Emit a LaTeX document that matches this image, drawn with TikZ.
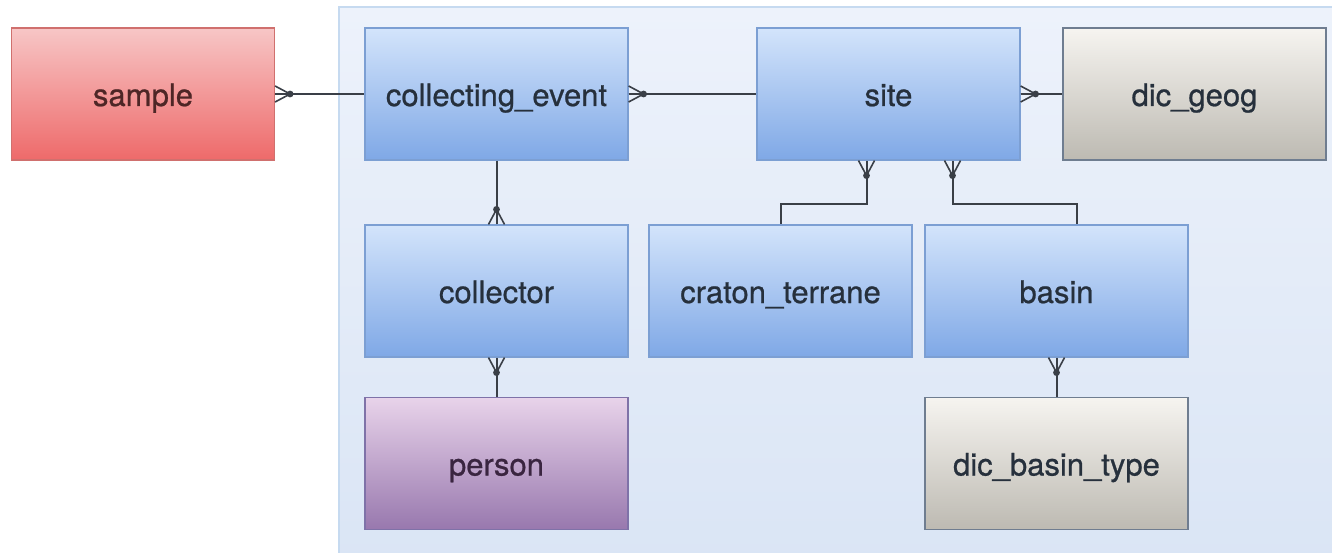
\documentclass[tikz,border=0pt]{standalone}
\usepackage{fontspec}
\setmainfont{TeX Gyre Heros}[FakeBold=0.7]
\usetikzlibrary{calc}

\definecolor{panelfill}{HTML}{EDF2FB}
\definecolor{panelfillb}{HTML}{DAE5F5}
\definecolor{paneledge}{HTML}{C6DAF0}
\definecolor{bluetop}{HTML}{D3E4FB}
\definecolor{bluebot}{HTML}{7FA8E6}
\definecolor{blueedge}{HTML}{7C9FD3}
\definecolor{redtop}{HTML}{F7C6C6}
\definecolor{redbot}{HTML}{EE6A6A}
\definecolor{rededge}{HTML}{D0706E}
\definecolor{graytop}{HTML}{F6F4F0}
\definecolor{graybot}{HTML}{BDBAB2}
\definecolor{grayedge}{HTML}{6F7D90}
\definecolor{purptop}{HTML}{E8D3EA}
\definecolor{purpbot}{HTML}{9878AE}
\definecolor{purpedge}{HTML}{7F72A8}
\definecolor{linkcol}{HTML}{3A3F47}
\definecolor{txt}{HTML}{26303C}
\definecolor{redtxt}{HTML}{4E2626}
\definecolor{purptxt}{HTML}{3A2540}

\tikzset{
  entity/.style={rectangle, minimum width=263pt, minimum height=132pt,
    inner sep=0pt, line width=1.2pt, text=txt,
    text height=24pt, text depth=0pt,
    font=\fontsize{31}{36}\selectfont},
  bluebox/.style={entity, draw=blueedge, top color=bluetop, bottom color=bluebot},
  redbox/.style={entity, draw=rededge, top color=redtop, bottom color=redbot, text=redtxt},
  graybox/.style={entity, draw=grayedge, top color=graytop, bottom color=graybot},
  purpbox/.style={entity, draw=purpedge, top color=purptop, bottom color=purpbot, text=purptxt},
  link/.style={draw=linkcol, line width=2pt},
  prong/.style={draw=linkcol, line width=1.6pt},
}

% crow's foot: prongs spread at the box edge #1, meeting at #2
\newcommand\crowfoot[3]{%
  \draw[prong] ($(#1)+(#3)$) -- (#2) -- ($(#1)-(#3)$);
  \draw[prong] (#1) -- (#2);
  \fill[linkcol] (#2) circle (3.4);
}

\begin{document}
\begin{tikzpicture}[x=1pt, y=-1pt]
\useasboundingbox (0,0) rectangle (1332,553);
\fill[white] (0,0) rectangle (1332,553);

% shaded panel behind the grouped entities
\shade[top color=panelfill, bottom color=panelfillb, draw=paneledge, line width=1.5pt]
  (339,7) rectangle (1345,565);

% entities
\node[redbox]  (sample)    at (143,94)      {sample};
\node[bluebox] (event)     at (496.5,94)    {collecting\_event};
\node[bluebox] (site)      at (888.5,94)    {site};
\node[graybox] (geog)      at (1194.5,94)   {dic\_geog};
\node[bluebox] (collector) at (496.5,291)   {collector};
\node[bluebox] (craton)    at (780.5,291)   {craton\_terrane};
\node[bluebox] (basin)     at (1056.5,291)  {basin};
\node[purpbox] (person)    at (496.5,463.5) {person};
\node[graybox] (btype)     at (1056.5,463.5){dic\_basin\_type};

% relationships
\draw[link] (sample.east) -- (event.west);
\draw[link] (event.east) -- (site.west);
\draw[link] (site.east) -- (geog.west);
\draw[link] (event.south) -- (collector.north);
\draw[link] ([xshift=-22pt]site.south) -- ++(0,43) -| (craton.north);
\draw[link] ([xshift=64pt]site.south) -- ++(0,43) -| ([xshift=20pt]basin.north);
\draw[link] (collector.south) -- (person.north);
\draw[link] (basin.south) -- (btype.north);

% many-ends
\coordinate (f1) at ($(sample.east)+(15,0)$);
\crowfoot{sample.east}{f1}{0,8}
\coordinate (f2) at ($(event.east)+(15,0)$);
\crowfoot{event.east}{f2}{0,8}
\coordinate (f3) at ($(site.east)+(15,0)$);
\crowfoot{site.east}{f3}{0,8}
\coordinate (f4) at ($(collector.north)+(0,-15)$);
\crowfoot{collector.north}{f4}{8,0}
\coordinate (s1) at ([xshift=-22pt]site.south);
\coordinate (f5) at ($(s1)+(0,15)$);
\crowfoot{s1}{f5}{8,0}
\coordinate (s2) at ([xshift=64pt]site.south);
\coordinate (f6) at ($(s2)+(0,15)$);
\crowfoot{s2}{f6}{8,0}
\coordinate (f7) at ($(collector.south)+(0,15)$);
\crowfoot{collector.south}{f7}{8,0}
\coordinate (f8) at ($(basin.south)+(0,15)$);
\crowfoot{basin.south}{f8}{8,0}
\end{tikzpicture}
\end{document}
